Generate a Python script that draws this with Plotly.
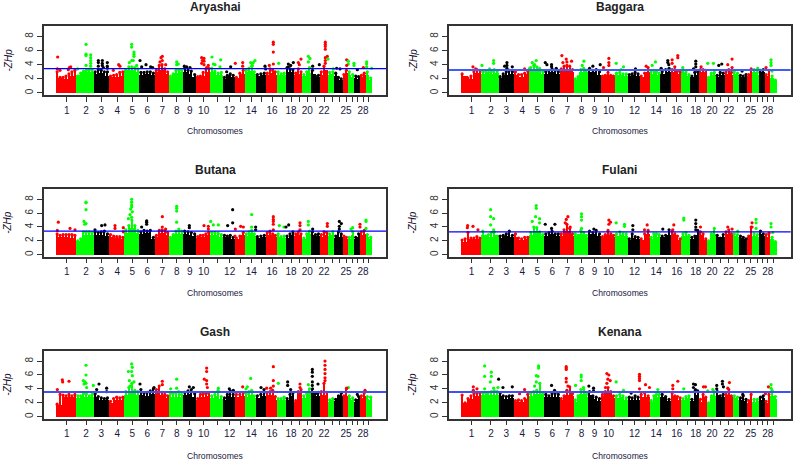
import numpy as np
import plotly.graph_objects as go

PANELS = ["Aryashai", "Baggara", "Butana", "Fulani", "Gash", "Kenana"]
THRESHOLDS = [3.45, 3.25, 3.4, 3.3, 3.55, 3.55]
LINE_COLORS = ["#0000ff", "#3f5cff", "#0000ff", "#0000ff", "#3f50f5", "#3f50f5"]
LINE_WIDTHS = [1.4, 2.0, 1.4, 1.4, 2.0, 2.0]
CHROM_SIZES = [62,52,46,46,45,47,42,42,40,41,39,35,31,32,31,32,27,26,24,26,27,24,19,25,15,20,17,17,20]
TICK_POS = [33,91,137,185,230,275,320,363,402,444,485,522,555,587,618,649,681,706,731,755,780,805,830,851,871,890,906,922,939]
TICK_LABELS = ["1","2","3","4","5","6","7","8","9","10","","12","","14","","16","","18","","20","","22","","","25","","","28",""]
CHROM_COLORS = ["#ff0000", "#00ff00", "#000000"]

# Height of the solid part of the point cloud, chromosome by chromosome
ARYASHAI_SOLID = [[2.1,2.0,2.4],[2.5,2.9,3.0],[2.7,2.8,2.4],[2.2,2.2,2.4],[3.2,3.3,3.0],[2.6,2.7,2.5],[2.9,3.2,2.7],[2.3,2.8,2.9],[3.0,2.7,2.3],[2.2,2.4,2.9],[3.0,2.6,2.5],[2.0,2.4,2.3],[2.1,2.7],[2.9,3.1,2.7],[2.4,2.5],[2.5,2.8,2.6],[2.6,2.5],[3.0,2.9],[2.6,2.7],[2.4,2.8],[2.7,2.2],[2.6,3.2],[2.6,2.7],[2.4,1.9],[2.3,2.8],[2.6,2.3],[2.1,2.0],[2.2,2.5],[2.6,1.9]]
BAGGARA_SOLID = [[2.4,2.0,2.8],[2.7,2.7,2.8],[2.1,2.6,2.7],[2.6,2.3,2.7],[3.2,3.3,2.7],[2.7,3.0,2.7],[3.1,3.4,2.9],[1.9,2.9,2.9],[3.0,2.9,2.5],[2.2,2.5,2.2],[2.5,2.5,2.4],[2.4,2.5,2.4],[2.2,2.9],[2.7,2.8,2.5],[2.7,3.0],[2.9,2.8,2.7],[2.9,2.4],[2.2,2.6],[2.9,2.9],[2.0,2.6],[2.2,2.6],[2.7,2.6],[2.7,2.5],[2.3,2.2],[2.4,2.9],[2.9,2.6],[2.9,2.9],[2.4,2.7],[2.1,1.7]]
BUTANA_SOLID = [[2.5,2.6,2.4],[2.0,2.9,2.9],[2.8,2.9,2.7],[2.5,2.4,2.3],[3.2,3.8,3.2],[3.0,3.1,2.3],[2.6,3.1,2.9],[2.4,3.0,3.0],[3.0,2.9,2.7],[2.4,2.6,2.8],[2.9,2.8,2.6],[2.5,2.5,2.3],[2.2,2.8],[2.7,3.1,2.7],[2.4,2.5],[2.8,2.9,2.5],[2.6,2.4],[2.4,2.9],[2.7,2.8],[2.2,3.0],[2.9,2.7],[2.6,2.9],[2.7,2.9],[2.4,2.6],[2.4,2.3],[2.3,2.9],[2.3,2.6],[2.9,3.0],[2.6,2.2]]
FULANI_SOLID = [[1.9,2.2,2.2],[2.9,2.6,2.8],[2.4,2.7,2.5],[2.6,2.1,2.3],[2.9,3.4,2.7],[2.7,3.0,2.7],[2.7,3.4,2.7],[2.7,3.0,2.5],[3.0,3.0,2.7],[2.4,2.9,2.6],[2.7,2.9,2.7],[2.1,2.4,2.3],[2.1,3.0],[2.3,2.7,2.6],[2.5,2.9],[3.0,2.6,2.1],[2.7,2.7],[2.3,2.8],[2.9,2.1],[1.9,3.0],[2.5,2.5],[3.0,2.8],[2.7,2.5],[2.4,2.2],[2.5,3.0],[2.7,2.6],[3.0,2.7],[2.6,2.7],[2.3,1.8]]
GASH_SOLID = [[1.7,2.8,2.8],[2.7,2.9,2.8],[2.8,2.4,2.4],[2.0,2.4,2.5],[3.2,3.7,3.2],[3.2,3.0,3.3],[3.4,3.2,2.7],[2.9,2.9,2.8],[3.1,3.3,2.9],[2.4,2.9,3.0],[2.7,3.0,2.6],[2.4,3.0,2.8],[2.8,3.0],[2.9,3.2,2.7],[2.7,3.0],[3.1,3.2,2.5],[2.4,2.4],[2.4,3.0],[2.1,3.4],[2.7,3.4],[3.4,3.0],[3.2,3.2],[2.2,2.4],[2.3,3.0],[2.7,3.0],[2.7,2.4],[2.2,2.6],[2.7,3.0],[2.6,2.5]]
KENANA_SOLID = [[2.0,2.6,3.0],[3.1,3.1,3.2],[3.0,2.6,2.7],[2.1,2.1,2.6],[3.0,3.3,3.3],[2.8,2.9,2.9],[2.4,3.2,3.0],[2.2,3.3,2.9],[3.2,2.6,2.3],[3.0,3.5,2.7],[2.7,2.8,2.4],[2.5,2.5,2.5],[2.9,2.8],[2.1,2.8,2.9],[2.8,2.3],[3.0,2.6,2.4],[2.4,2.7],[2.3,3.2],[2.2,2.9],[1.9,3.0],[3.2,2.9],[3.2,2.8],[2.7,2.5],[2.4,2.3],[2.0,2.8],[2.2,2.3],[2.5,2.7],[2.0,2.8],[3.0,2.6]]

# Upper edge of the loose fringe above the solid part
ARYASHAI_CLOUD = [[3.0,2.2,2.2,2.4,2.7,3.0,3.2],[2.4,2.8,3.1,3.2,3.3,3.3],[3.0,3.3,3.2,3.0,3.0],[2.4,2.5,2.6,2.9,3.0],[3.3,3.7,3.7,3.6,3.4],[2.9,2.9,3.0,3.0,2.8],[3.2,3.9,4.0,3.4,3.0],[2.4,2.7,3.2,3.3,3.2],[3.5,3.2,3.1,2.6],[2.3,2.4,2.9,3.4,3.5],[3.5,3.1,2.8,2.9],[2.2,2.5,2.7,2.5],[2.2,2.8,3.2],[3.2,3.5,3.8,3.0],[2.6,2.7,2.8],[2.8,3.4,3.2,3.0],[3.0,2.7,2.8],[3.6,3.4,3.3],[2.8,3.4,3.0],[2.6,3.0,3.6],[3.2,2.4,2.5],[3.0,3.8,3.0],[2.9,3.0],[2.8,2.2,2.0],[2.6,3.2],[3.0,2.6],[2.4,2.3],[2.5,2.8],[3.0,2.1]]
BAGGARA_CLOUD = [[2.7,2.0,2.1,2.4,3.0,3.3,3.2],[3.0,3.0,2.9,3.0,3.3,3.0],[2.3,2.7,3.0,3.2,3.0],[3.0,2.6,2.6,2.8,3.1],[3.6,3.9,3.7,3.2,3.0],[3.0,3.2,3.4,3.2,3.0],[3.4,3.8,3.9,3.8,3.3],[2.0,2.3,3.3,3.5,3.2],[3.5,3.2,3.3,3.0],[2.4,2.5,2.9,2.5,2.4],[2.8,2.9,2.7,2.7],[2.6,2.7,2.9,2.7],[2.4,2.8,3.6],[3.0,3.2,3.0,2.8],[3.0,3.3,3.5],[3.3,3.3,3.1,3.0],[3.3,3.0,2.6],[2.4,2.9,3.0],[3.3,3.3,3.2],[2.2,2.8,2.9],[2.5,2.9,2.8],[3.0,3.3,2.9],[3.0,2.8],[2.5,2.4,2.6],[2.6,3.4],[3.3,2.9],[3.2,3.3],[2.6,3.2],[2.4,1.8]]
BUTANA_CLOUD = [[3.0,2.8,2.9,2.9,2.9,2.9,2.8],[2.0,2.3,3.3,3.3,3.3,3.2],[3.3,3.2,3.3,3.4,3.0],[2.9,2.7,2.6,2.6,2.5],[3.6,4.2,5.0,4.2,3.5],[3.3,3.5,3.4,3.5,2.5],[2.8,3.5,3.6,3.5,3.2],[2.5,2.9,3.4,3.7,3.4],[3.4,3.3,3.2,3.0],[2.6,2.8,2.8,3.0,3.2],[3.2,3.2,3.1,2.9],[2.8,2.7,2.8,2.5],[2.4,2.7,3.2],[3.0,3.3,3.5,3.0],[2.6,2.7,2.8],[3.2,3.4,3.0,2.8],[3.0,2.6,2.7],[2.7,3.0,3.3],[3.0,3.3,3.0],[2.4,3.0,3.4],[3.3,2.9,3.0],[2.9,3.3,3.2],[3.0,3.3],[2.7,3.3,3.0],[2.7,2.5],[2.5,3.3],[2.5,3.0],[3.3,3.5],[2.9,2.5]]
FULANI_CLOUD = [[2.1,2.3,3.2,2.4,2.4,2.6,2.4],[3.4,2.7,2.9,3.2,3.3,2.7],[2.7,2.8,3.0,3.4,2.8],[3.0,2.4,2.3,2.5,2.5],[3.2,4.0,3.9,3.3,2.9],[3.0,3.2,3.4,3.0,3.0],[3.0,3.6,4.4,3.8,3.0],[3.0,2.8,3.5,3.2,2.8],[3.4,3.2,3.5,3.0],[2.6,2.9,3.5,3.0,2.8],[3.0,3.3,3.0,3.0],[2.3,3.0,2.6,2.5],[2.3,3.0,3.5],[2.5,3.0,3.0,2.9],[2.7,2.8,3.6],[3.4,3.0,2.7,2.3],[3.0,3.2,2.8],[2.5,2.7,3.5],[3.3,3.0,2.3],[2.0,3.0,3.8],[2.8,2.4,2.9],[3.3,3.6,3.0],[3.0,2.9],[2.7,2.5,2.3],[2.7,4.0],[3.0,2.9],[3.4,3.0],[2.9,3.1],[2.5,1.9]]
GASH_CLOUD = [[1.8,3.2,3.1,3.0,3.2,3.0,3.2],[3.0,3.0,3.3,3.3,3.0,3.2],[3.3,2.9,2.7,2.6,2.7],[2.2,2.6,2.8,2.7,2.8],[3.6,4.2,4.8,3.8,3.6],[3.9,3.4,3.5,3.7,4.0],[3.9,4.4,3.5,3.2,3.0],[3.3,3.4,3.3,3.6,3.2],[3.5,3.7,3.9,3.3],[2.6,3.2,3.3,3.3,3.4],[3.0,3.2,3.8,2.9],[2.7,3.2,3.7,3.2],[3.2,3.2,3.4],[3.3,3.6,3.8,3.0],[3.0,3.2,3.5],[3.5,3.6,3.8,2.9],[2.6,2.6,2.8],[2.6,3.2,3.4],[2.3,3.6,3.9],[3.0,3.3,4.0],[4.0,3.3,3.5],[3.6,4.8,3.5],[2.4,2.6],[2.5,3.0,3.4],[3.0,4.0],[3.0,2.7],[2.4,2.9],[3.0,3.4],[2.9,2.8]]
KENANA_CLOUD = [[3.1,2.0,2.6,3.0,3.3,3.4,3.4],[3.5,3.4,3.5,3.6,3.7,3.6],[3.4,3.0,2.9,3.0,3.0],[2.3,2.4,2.3,2.6,3.2],[3.3,3.6,3.8,4.8,3.4],[3.2,3.0,3.3,3.4,3.2],[2.6,3.0,3.8,4.3,3.3],[2.4,3.0,3.9,3.9,3.2],[3.6,3.0,2.8,2.6],[3.2,3.6,4.2,3.6,3.0],[3.0,3.2,3.0,2.7],[2.8,2.7,3.0,2.8],[3.2,3.4,3.0],[2.3,3.0,3.2,3.2],[3.2,2.9,2.5],[3.4,3.0,2.9,2.7],[2.6,2.9,3.0],[2.5,3.6,3.7],[2.5,3.2,2.8],[2.0,3.0,3.6],[3.6,3.0,3.2],[3.2,3.9,3.0],[3.0,2.8],[2.7,3.0,2.5],[2.3,3.2],[2.5,2.5],[2.8,3.0],[2.2,3.2],[3.8,2.9]]

# Individually visible SNPs above the cloud: (genome position, -ZHp)
ARYASHAI_SNPS = [(6,5.1),(5,3.4),(13,3.2),(38,3.3),(45,3.7),(41,3.6),(91,6.9),(91,5.5),(91,5.3),(105,5.4),(105,5.0),(105,4.6),(105,4.2),(105,3.8),(91,3.9),(66,3.4),(128,4.6),(128,4.3),(140,4.6),(140,4.2),(140,3.9),(155,4.3),(155,3.8),(128,3.8),(143,3.6),(155,3.5),(189,4.0),(193,3.8),(173,3.2),(228,6.9),(228,6.5),(235,5.8),(235,5.5),(235,5.2),(228,4.6),(233,4.6),(253,4.6),(221,4.3),(243,3.9),(271,4.0),(258,3.7),(285,3.7),(291,3.6),(320,5.2),(316,5.0),(320,4.6),(313,4.4),(330,4.0),(363,4.4),(368,4.1),(363,4.0),(386,3.8),(393,3.7),(403,3.6),(438,5.0),(445,4.9),(440,4.6),(445,4.5),(438,4.2),(445,4.0),(458,3.9),(453,3.6),(469,5.1),(495,4.7),(473,4.1),(478,4.0),(493,3.7),(525,3.7),(513,3.0),(539,4.2),(561,4.3),(561,3.8),(585,4.3),(598,4.6),(593,4.3),(590,3.9),(628,3.8),(630,3.4),(653,7.2),(653,6.9),(653,5.8),(653,4.1),(641,3.9),(669,4.2),(698,4.1),(713,4.3),(705,3.9),(698,3.7),(736,4.8),(728,4.3),(731,4.0),(758,5.2),(763,4.9),(758,4.4),(771,3.8),(791,4.0),(809,7.2),(809,6.9),(809,6.6),(809,6.2),(815,5.2),(809,5.0),(809,4.6),(809,4.2),(817,4.8),(833,3.4),(843,3.5),(853,3.4),(873,4.7),(878,4.5),(878,4.1),(873,3.9),(895,4.2),(895,3.9),(905,3.3),(923,3.6),(933,4.4),(933,4.1),(933,3.7),(948,3.5)]
BAGGARA_SNPS = [(37,3.7),(45,3.4),(64,3.9),(99,4.6),(99,4.2),(87,3.4),(139,4.3),(139,3.9),(132,3.8),(155,3.7),(139,3.5),(192,3.4),(207,3.5),(215,4.3),(227,4.6),(222,4.0),(237,3.5),(254,4.3),(259,4.0),(273,4.0),(273,3.7),(287,3.5),(304,5.3),(317,4.8),(319,4.4),(333,4.5),(307,4.3),(370,4.5),(365,3.9),(397,3.8),(419,4.0),(429,3.6),(445,4.9),(445,4.3),(445,3.9),(467,4.2),(489,3.7),(482,3.3),(525,3.4),(557,3.8),(585,4.4),(575,3.9),(602,3.5),(622,4.6),(622,4.3),(625,4.0),(635,4.7),(635,4.2),(652,5.3),(652,5.0),(643,3.7),(667,3.6),(706,4.5),(706,4.1),(706,3.7),(699,3.4),(722,3.7),(742,4.2),(759,4.2),(784,4.1),(775,3.9),(802,4.0),(815,4.8),(815,3.6),(845,3.1),(892,3.5),(917,3.6),(932,4.7),(932,4.3),(932,3.9),(935,3.1)]
BUTANA_SNPS = [(8,4.7),(5,3.5),(43,3.8),(58,3.6),(91,7.6),(91,7.5),(91,6.5),(85,4.8),(91,4.5),(87,4.4),(138,4.2),(148,4.3),(118,3.6),(178,4.2),(178,3.8),(203,3.9),(203,3.3),(228,8.0),(228,7.6),(228,7.2),(228,6.9),(225,6.6),(230,6.2),(223,5.8),(228,5.4),(218,5.2),(273,4.9),(273,4.7),(273,4.4),(258,4.0),(320,5.5),(320,4.0),(330,3.7),(363,7.0),(363,6.7),(363,6.3),(363,4.7),(401,4.2),(401,3.9),(445,4.2),(458,4.1),(458,3.7),(465,4.8),(488,4.3),(473,4.3),(531,6.5),(531,4.6),(516,4.2),(539,3.7),(538,2.7),(555,4.1),(563,4.0),(588,5.8),(588,4.0),(600,4.0),(600,3.6),(653,5.5),(653,5.1),(653,4.8),(653,4.4),(653,3.6),(671,4.2),(685,4.0),(691,4.0),(699,4.3),(733,4.6),(733,4.2),(733,3.6),(758,4.8),(758,4.3),(771,3.7),(815,4.5),(815,4.1),(851,4.8),(857,4.5),(851,4.1),(851,3.7),(891,3.9),(886,3.7),(913,4.4),(913,4.0),(931,5.0),(931,4.8),(931,3.8)]
FULANI_SNPS = [(21,4.2),(20,3.9),(37,4.1),(52,3.6),(90,6.5),(90,5.5),(99,5.2),(90,4.3),(99,3.6),(227,7.1),(227,6.7),(225,5.5),(215,4.8),(237,5.2),(237,4.6),(254,4.4),(283,4.4),(273,3.8),(322,5.5),(317,5.1),(314,4.6),(329,4.0),(363,5.9),(363,5.5),(363,5.0),(363,3.8),(400,3.7),(445,5.0),(450,4.7),(445,4.4),(467,4.6),(492,4.4),(492,4.1),(517,4.2),(517,3.6),(560,4.3),(552,3.6),(607,3.7),(637,3.6),(640,4.3),(670,5.3),(670,5.0),(706,5.0),(706,4.5),(706,4.0),(706,3.6),(720,4.0),(802,4.0),(815,3.7),(832,3.4),(875,4.6),(875,4.0),(887,5.1),(887,4.6),(887,3.8),(932,4.5),(932,4.0),(937,3.2)]
GASH_SNPS = [(5,3.9),(20,5.3),(21,5.0),(40,5.1),(83,5.2),(88,5.0),(85,4.7),(91,7.4),(91,6.0),(91,4.8),(93,4.2),(113,4.5),(130,4.7),(123,3.9),(153,4.1),(153,3.6),(218,6.5),(228,7.6),(230,7.1),(228,6.5),(230,5.9),(221,5.2),(235,5.0),(223,4.4),(253,4.7),(295,4.2),(320,5.1),(320,4.6),(363,5.4),(345,4.0),(363,4.1),(401,4.3),(413,4.2),(453,7.0),(453,6.5),(446,5.4),(453,5.2),(453,4.7),(455,4.2),(488,4.1),(521,4.0),(533,3.8),(561,4.3),(575,4.3),(585,5.5),(571,4.0),(616,4.2),(625,3.9),(653,7.2),(653,5.2),(633,4.1),(645,4.1),(653,4.4),(668,4.8),(696,5.0),(696,4.5),(705,3.9),(733,4.7),(733,4.2),(758,4.6),(770,6.8),(770,6.4),(770,5.8),(770,5.0),(787,4.7),(770,4.5),(808,8.0),(808,7.4),(808,6.8),(808,6.2),(808,5.6),(808,5.2),(858,3.5),(878,4.2),(873,4.1),(928,3.8),(905,3.2)]
KENANA_SNPS = [(38,4.3),(38,3.8),(49,4.0),(72,7.3),(72,5.8),(72,4.0),(92,6.4),(92,5.8),(89,5.0),(114,5.4),(112,4.2),(99,4.1),(127,4.2),(155,4.3),(192,3.9),(177,3.3),(234,7.3),(234,7.0),(227,5.9),(232,5.8),(227,5.0),(222,4.4),(273,4.5),(282,3.8),(317,7.2),(317,7.0),(317,6.8),(317,5.5),(317,5.0),(322,4.4),(345,4.5),(362,6.0),(362,5.7),(362,5.2),(369,4.2),(385,4.4),(399,4.1),(399,3.7),(439,6.2),(445,6.0),(442,5.4),(449,5.2),(439,4.8),(435,4.2),(467,5.0),(489,3.8),(512,3.4),(537,6.1),(537,5.8),(537,5.5),(537,5.2),(537,4.0),(555,4.6),(567,4.2),(592,3.9),(637,4.5),(637,4.0),(652,5.1),(670,4.0),(699,4.7),(705,4.6),(699,4.2),(705,3.9),(729,4.3),(735,4.3),(742,3.7),(757,3.9),(769,4.5),(769,4.0),(786,5.1),(786,4.7),(789,4.3),(807,4.9),(802,4.1),(847,3.2),(924,4.3),(932,4.6),(932,4.1),(915,3.3)]

SOLIDS = [ARYASHAI_SOLID, BAGGARA_SOLID, BUTANA_SOLID, FULANI_SOLID, GASH_SOLID, KENANA_SOLID]
CLOUDS = [ARYASHAI_CLOUD, BAGGARA_CLOUD, BUTANA_CLOUD, FULANI_CLOUD, GASH_CLOUD, KENANA_CLOUD]
SNPS = [ARYASHAI_SNPS, BAGGARA_SNPS, BUTANA_SNPS, FULANI_SNPS, GASH_SNPS, KENANA_SNPS]

W, H = 795, 462
BOX_X = [(44, 386), (449, 790.7)]
BOX_Y = [(26, 95), (189, 256.7), (350.7, 418.7)]
TITLE_Y = [7, 170, 332]
YT_X = [8, 413]
XT_Y = [131, 293, 455.5]
edges = np.concatenate([[0], np.cumsum(CHROM_SIZES)])
TXT = dict(family="Liberation Sans, Arial, sans-serif")


def columns(table, narrow=None):
    xs, hs, ws, cs = [], [], [], []
    for c, vals in enumerate(table):
        w = CHROM_SIZES[c] / len(vals)
        for k, v in enumerate(vals):
            xs.append(edges[c] + (k + 0.5) * w)
            hs.append(v)
            ws.append(narrow if narrow else w)
            cs.append(CHROM_COLORS[c % 3])
    return xs, hs, ws, cs


fig = go.Figure()
layout = {}
ann = []
for i, name in enumerate(PANELS):
    col, row = i % 2, i // 2
    sfx = "" if i == 0 else str(i + 1)
    xa, ya = "x" + sfx, "y" + sfx
    x0, x1 = BOX_X[col]
    y0, y1 = BOX_Y[row]
    for table, narrow in ((SOLIDS[i], None), (CLOUDS[i], 3.5)):
        xs, hs, ws, cs = columns(table, narrow)
        fig.add_trace(go.Bar(x=xs, y=hs, width=ws, marker=dict(color=cs, line_width=0),
                             xaxis=xa, yaxis=ya, showlegend=False, name=name))
    xs, hs, _, cs = columns(CLOUDS[i])
    px = xs + [p[0] for p in SNPS[i]]
    py = hs + [p[1] for p in SNPS[i]]
    idx = np.clip(np.searchsorted(edges, px, side="right") - 1, 0, 28)
    fig.add_trace(go.Scatter(x=px, y=py, mode="markers",
                             marker=dict(size=3.2, color=[CHROM_COLORS[j % 3] for j in idx], line_width=0),
                             xaxis=xa, yaxis=ya, showlegend=False, name=name))
    layout["xaxis" + sfx] = dict(domain=[x0 / W, x1 / W], range=[-35, 991], anchor=ya,
        tickmode="array", tickvals=TICK_POS, ticktext=TICK_LABELS, tickangle=0, ticks="outside",
        ticklen=5, tickwidth=1, tickcolor="#333", showgrid=False, zeroline=False, showline=True,
        linecolor="#333", linewidth=1.5, mirror=True,
        tickfont=dict(size=10, color="#1a1a40", **TXT))
    layout["yaxis" + sfx] = dict(domain=[1 - y1 / H, 1 - y0 / H], range=[-0.3, 9.5], anchor=xa,
        tickmode="array", tickvals=[0, 2, 4, 6, 8], tickangle=-90, ticks="outside", ticklen=5,
        tickwidth=1, tickcolor="#333", showgrid=False, zeroline=False, showline=True,
        linecolor="#333", linewidth=1.5, mirror=True,
        tickfont=dict(size=10, color="#333", **TXT))
    fig.add_shape(type="line", xref=xa + " domain", yref=ya, x0=0, x1=1,
                  y0=THRESHOLDS[i], y1=THRESHOLDS[i], line=dict(color=LINE_COLORS[i], width=LINE_WIDTHS[i]))
    cx = (x0 + x1) / 2
    ann.append(dict(text="<b>%s</b>" % name, x=cx / W, y=1 - TITLE_Y[row] / H, xref="paper", yref="paper",
                    showarrow=False, xanchor="center", yanchor="middle",
                    font=dict(size=12, color="#222", **TXT)))
    ann.append(dict(text="Chromosomes", x=cx / W, y=1 - XT_Y[row] / H, xref="paper", yref="paper",
                    showarrow=False, xanchor="center", yanchor="middle",
                    font=dict(size=8.6, color="#1a1a40", **TXT)))
    ann.append(dict(text="<i>-ZHp</i>", x=YT_X[col] / W, y=1 - (y0 + y1) / 2 / H, xref="paper", yref="paper",
                    showarrow=False, textangle=-90, xanchor="center", yanchor="middle",
                    font=dict(size=10, color="#1a1030", **TXT)))

fig.update_layout(width=W, height=H, margin=dict(l=0, r=0, t=0, b=0), paper_bgcolor="white",
                  plot_bgcolor="white", bargap=0, barmode="overlay", annotations=ann, **layout)
fig.write_html("out.html", config=dict(displayModeBar=False), post_script="document.body.style.margin='0';")
